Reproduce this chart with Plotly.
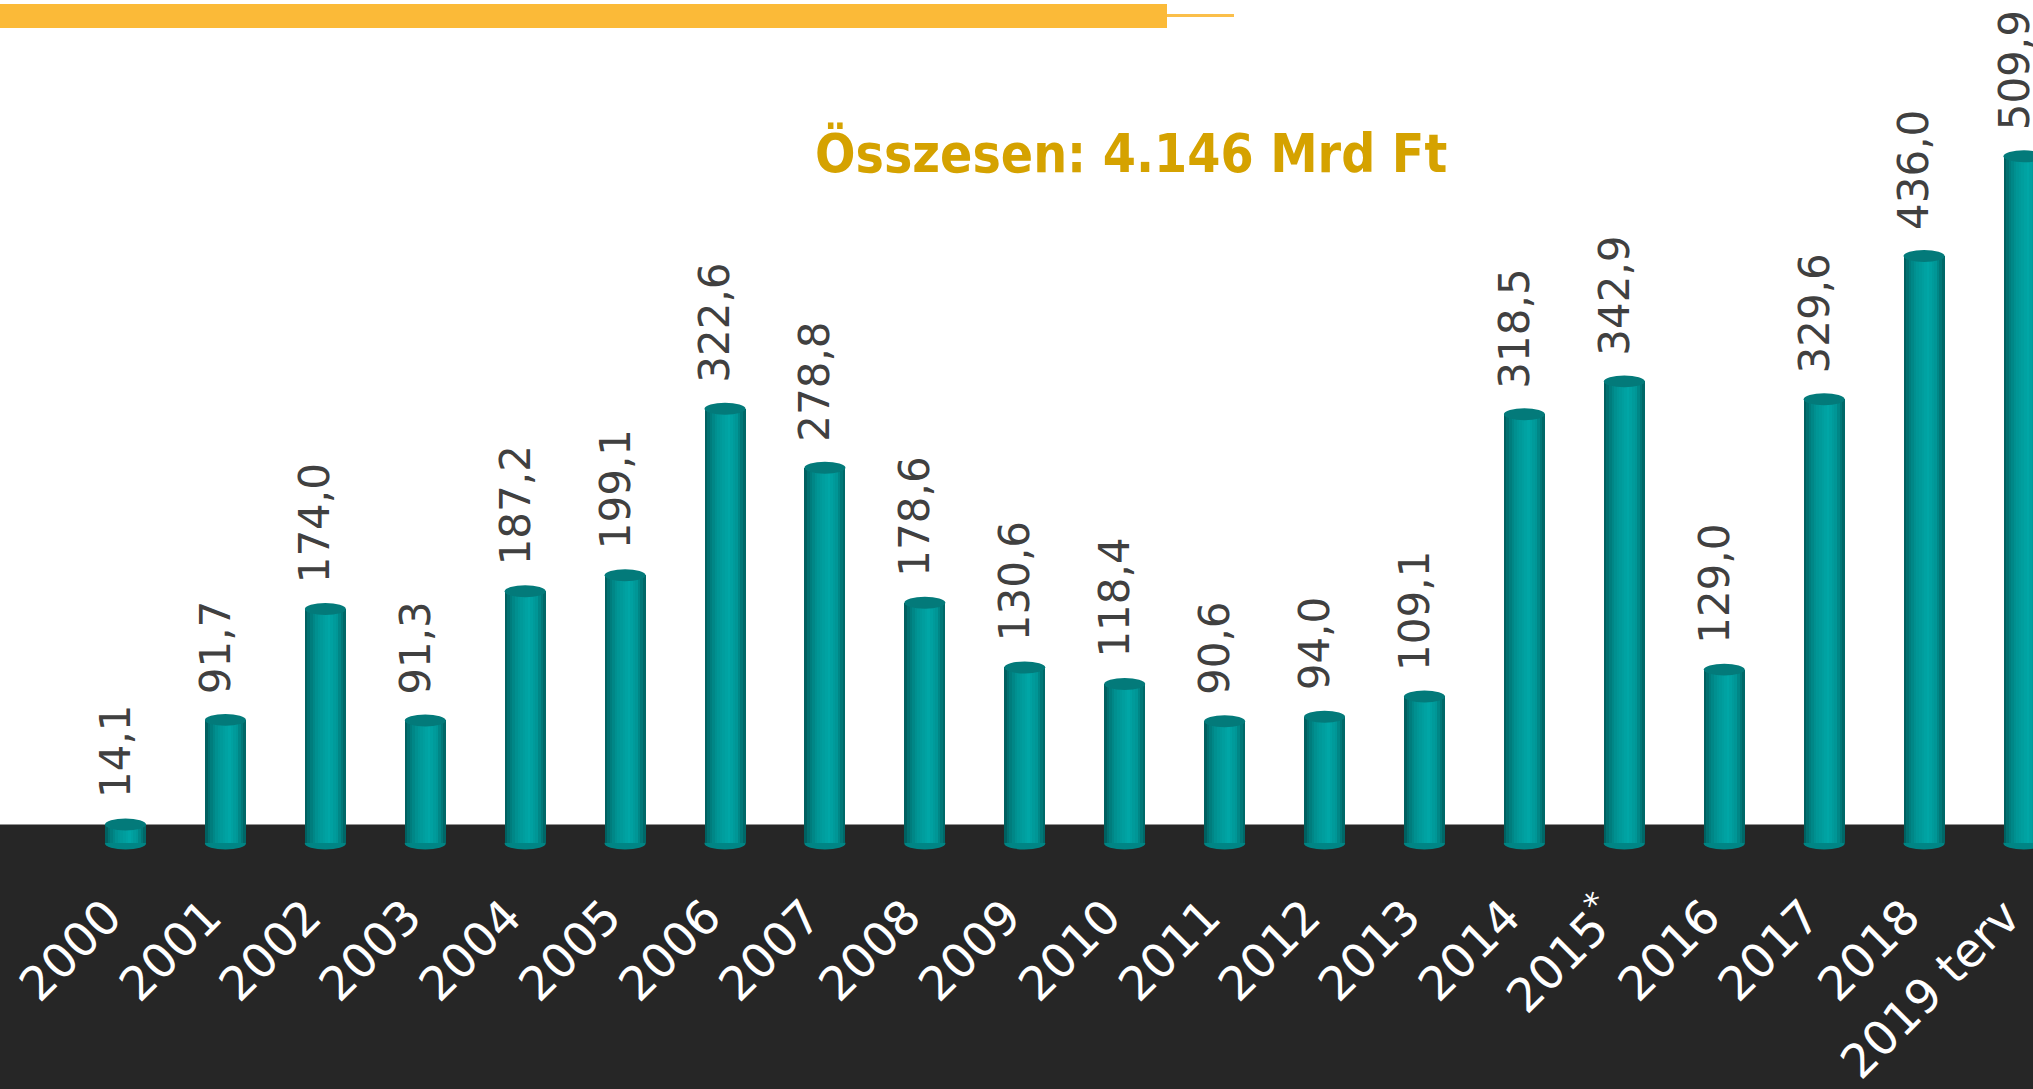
import plotly.graph_objects as go

# ---- data ----
years = ["2000", "2001", "2002", "2003", "2004", "2005", "2006", "2007", "2008", "2009",
         "2010", "2011", "2012", "2013", "2014", "2015", "2016", "2017", "2018", "2019"]
tick_labels = ["2000", "2001", "2002", "2003", "2004", "2005", "2006", "2007", "2008", "2009",
               "2010", "2011", "2012", "2013", "2014", "2015<sup>*</sup>", "2016", "2017", "2018", "2019 terv"]
values = [14.1, 91.7, 174.0, 91.3, 187.2, 199.1, 322.6, 278.8, 178.6, 130.6,
          118.4, 90.6, 94.0, 109.1, 318.5, 342.9, 129.0, 329.6, 436.0, 509.9]
value_labels = ["14,1", "91,7", "174,0", "91,3", "187,2", "199,1", "322,6", "278,8", "178,6", "130,6",
                "118,4", "90,6", "94,0", "109,1", "318,5", "342,9", "129,0", "329,6", "436,0", "509,9"]
title_text = "Összesen: 4.146 Mrd Ft"

# ---- style ----
W, H = 2033, 1089
BAR_W = 0.41
N_STRIPES = 16
stops = [(0.0, (0, 88, 88)), (0.12, (0, 120, 120)), (0.3, (0, 147, 147)),
         (0.6, (0, 166, 166)), (0.78, (0, 150, 150)), (0.9, (0, 122, 122)), (1.0, (0, 96, 96))]


def grad(t):
    for (t0, c0), (t1, c1) in zip(stops[:-1], stops[1:]):
        if t0 <= t <= t1:
            f = (t - t0) / (t1 - t0)
            c = [round(a + (b - a) * f) for a, b in zip(c0, c1)]
            return "rgb(%d,%d,%d)" % tuple(c)
    return "rgb(0,96,96)"


fig = go.Figure()
sw = BAR_W / N_STRIPES
for k in range(N_STRIPES):
    t = (k + 0.5) / N_STRIPES
    fig.add_trace(go.Bar(
        x=list(range(len(years))), y=values,
        width=sw * (1.6 if k < N_STRIPES - 1 else 1.0),
        offset=-BAR_W / 2 + k * sw,
        marker=dict(color=grad(t), line=dict(width=0)),
        hoverinfo="skip", showlegend=False,
    ))

PX_PER_UNIT = 1.35
ell = 6.0 / PX_PER_UNIT
shapes = [
    # dark floor band
    dict(type="rect", xref="paper", yref="paper", x0=-0.01, x1=1.01, y0=-0.1, y1=(H - 826) / H,
         fillcolor="#262626", line=dict(width=0), layer="below"),
    # orange header bar
    dict(type="rect", xref="paper", yref="paper", x0=-0.01, x1=1167 / W, y0=1 - 28 / H, y1=1 - 4 / H,
         fillcolor="#FBBA38", line=dict(width=0), layer="above"),
    dict(type="line", xref="paper", yref="paper", x0=1167 / W, x1=1234 / W, y0=1 - 15.5 / H, y1=1 - 15.5 / H,
         line=dict(color="#FBBF4A", width=3), layer="above"),
]
for i, v in enumerate(values):
    shapes.append(dict(type="circle", xref="x", yref="y", x0=i - BAR_W / 2, x1=i + BAR_W / 2,
                       y0=-ell, y1=ell, fillcolor="#008585", line=dict(width=0), layer="below"))
    shapes.append(dict(type="circle", xref="x", yref="y", x0=i - BAR_W / 2, x1=i + BAR_W / 2,
                       y0=v - ell, y1=v + ell, fillcolor="#037a7a", line=dict(width=0), layer="above"))

annotations = []
for i, (v, lab) in enumerate(zip(values, value_labels)):
    annotations.append(dict(x=i, y=v, xref="x", yref="y", text=lab, showarrow=False,
                            textangle=-90, yanchor="bottom", xanchor="center", yshift=24, xshift=-10,
                            font=dict(family="DejaVu Sans, Verdana, sans-serif", size=42, color="#404040")))
annotations.append(dict(x=1131 / W, y=1 - 153 / H, xref="paper", yref="paper", text="<b>" + title_text + "</b>",
                        showarrow=False, xanchor="center", yanchor="middle",
                        font=dict(family="DejaVu Sans Condensed, DejaVu Sans, sans-serif", size=53, color="#D5A200")))

axis_px = 880
y0_px = 845
fig.update_layout(
    width=W, height=H, margin=dict(l=0, r=0, t=0, b=0),
    paper_bgcolor="white", plot_bgcolor="rgba(0,0,0,0)",
    barmode="overlay", bargap=0,
    shapes=shapes, annotations=annotations,
    xaxis=dict(range=[-125.5 / 99.92, -125.5 / 99.92 + W / 99.92], tickmode="array",
               tickvals=list(range(len(years))), ticktext=tick_labels, tickangle=-45,
               tickfont=dict(family="DejaVu Sans, Verdana, sans-serif", size=47, color="white"),
               ticklabeloverflow="allow", ticklabelshift=-18,
               showgrid=False, zeroline=False, showline=False, ticks=""),
    yaxis=dict(domain=[(H - axis_px) / H, 1], range=[-(axis_px - y0_px) / PX_PER_UNIT, y0_px / PX_PER_UNIT],
               visible=False, showgrid=False, zeroline=False),
)

fig.write_html("out.html", config={"displayModeBar": False},
               post_script="document.body.style.margin='0';document.body.style.overflow='hidden';")
